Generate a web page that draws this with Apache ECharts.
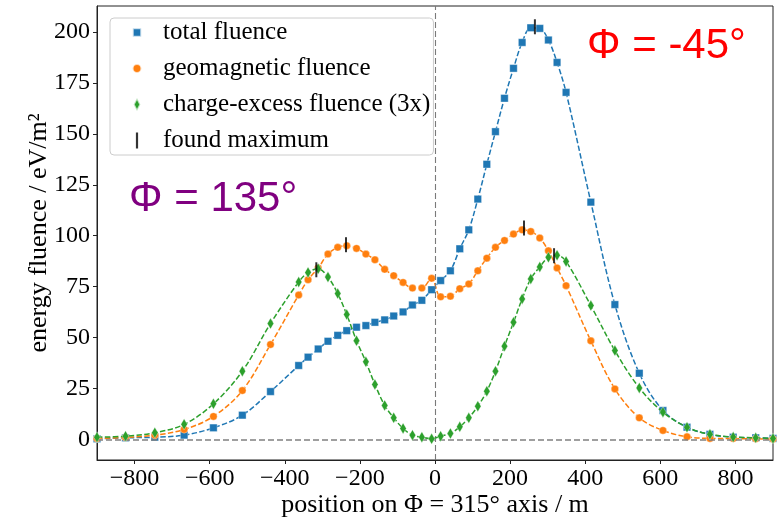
<!DOCTYPE html>
<html>
<head>
<meta charset="utf-8">
<script src="https://cdn.jsdelivr.net/npm/echarts@6/dist/echarts.min.js"></script>
<style>html,body{margin:0;padding:0;background:#fff}#c{width:780px;height:519px}</style>
</head>
<body>
<div id="c"></div>
<script>
// antenna positions along the Φ = 315° axis (m)
const positions = [-900, -824, -746, -668, -590, -513, -438, -363, -338, -311, -285, -259, -235, -209, -184, -160, -134, -110, -85, -60, -35, -9,
  15, 41, 66, 90, 114, 138, 161, 185, 209, 232, 255, 279, 302, 325, 349, 415, 479, 544, 607, 671, 732, 794, 854, 900];
const totalFluence = [0.3, 0.8, 1.1, 2.1, 5.7, 11.9, 23.5, 36.3, 40.4, 44.4, 48.2, 51.1, 53.4, 55.1, 55.9, 57.5, 58.7, 60.6, 62.6, 66.0, 68.3, 73.5,
  78.0, 82.8, 93.6, 102.9, 118.0, 135.1, 151.1, 167.5, 182.2, 194.9, 202.1, 201.8, 196.1, 185.1, 170.4, 116.5, 66.2, 32.5, 14.2, 6.0, 2.5, 1.1, 0.8, 0.5];
const geomagneticFluence = [0.5, 1.0, 2.1, 4.9, 11.3, 24.0, 46.6, 70.9, 78.4, 84.2, 91.0, 94.3, 95.1, 93.8, 91.0, 88.2, 83.5, 80.4, 77.1, 74.3, 74.3, 79.1,
  70.0, 70.3, 74.0, 76.3, 82.8, 89.0, 94.3, 97.7, 100.8, 102.9, 102.1, 98.9, 92.6, 84.2, 75.5, 48.4, 24.8, 10.6, 4.4, 1.3, 0.5, 0.4, 0.3, 0.2];
const chargeExcessFluence3x = [1.1, 1.6, 3.3, 7.4, 17.5, 33.5, 56.9, 77.3, 82.0, 83.8, 79.7, 71.6, 61.3, 48.5, 38.1, 27.0, 16.7, 10.6, 5.4, 2.1, 1.1, 0.3,
  1.6, 2.9, 6.2, 10.6, 16.3, 23.7, 33.5, 45.8, 57.5, 69.0, 78.8, 84.7, 89.4, 90.4, 87.4, 65.7, 43.6, 25.3, 13.4, 6.0, 2.5, 1.2, 0.8, 0.5];
const maxPositions = [266, 237, 317, -237, -316];
const maxValues = [202.6, 103.8, 90.2, 95.6, 83.3];
const xTicks = [-800, -600, -400, -200, 0, 200, 400, 600, 800];
const yTicks = [0, 25, 50, 75, 100, 125, 150, 175, 200];

const zip = (xs, ys) => xs.map((x, i) => [x, ys[i]]);
const serif = 'Liberation Serif';
const dash = [5.5, 2.4];

// legend icons: 42x20 box, shape centred at (21,10)
const pad = 'M0,0 M42,20 ';
const icons = {
  square: 'path://' + pad + 'M16.8,5.8 L25.2,5.8 L25.2,14.2 L16.8,14.2 Z',
  circle: 'path://' + pad + 'M16.6,10 A4.4,4.4 0 1,1 25.4,10 A4.4,4.4 0 1,1 16.6,10 Z',
  diamond: 'path://' + pad + 'M21,3.5 L24.4,10 L21,16.5 L17.6,10 Z',
  bar: 'path://' + pad + 'M19.9,2 L22.1,2 L22.1,18 L19.9,18 Z'
};

const chart = echarts.init(document.getElementById('c'), null, {renderer: 'canvas'});
const lineSeries = (name, data, color, symbol, size, z) => ({
  name, type: 'line', data, z,
  smooth: 0.35,
  symbol, symbolSize: size, showAllSymbol: true,
  lineStyle: {color, width: 1.5, type: dash},
  itemStyle: {color, borderColor: 'rgba(255,255,255,0.7)', borderWidth: 0.5},
  emphasis: {disabled: true}
});

const s1 = lineSeries('total fluence', zip(positions, totalFluence), '#1f77b4', 'rect', 7.5, 3);
s1.markLine = {
  silent: true, symbol: 'none', label: {show: false}, animation: false,
  data: [
    {xAxis: 0, lineStyle: {color: '#7a7a7a', width: 1.1, type: [6, 3]}},
    {yAxis: 0, lineStyle: {color: '#808080', width: 1.5, type: [6, 3]}}
  ]
};

chart.setOption({
  animation: false,
  grid: {left: 97, right: 7, top: 6, bottom: 59, outerBoundsMode: 'none', containLabel: false,
    show: true, borderColor: '#222', borderWidth: 1, backgroundColor: 'transparent'},
  xAxis: {
    type: 'value', min: -900, max: 900,
    name: 'position on Φ = 315° axis / m', nameLocation: 'middle', nameGap: 32, nameMoveOverlap: false,
    nameTextStyle: {fontFamily: serif, fontSize: 26, color: '#000'},
    axisLine: {show: true, onZero: false, lineStyle: {color: '#222', width: 1}},
    axisTick: {show: true, inside: false, length: 4, customValues: xTicks, lineStyle: {color: '#222'}},
    axisLabel: {customValues: xTicks, margin: 7, fontFamily: serif, fontSize: 24, color: '#000',
      formatter: v => String(v).replace('-', '\u2212')},
    splitLine: {show: false}
  },
  yAxis: {
    type: 'value', min: -10.1, max: 212.8,
    name: 'energy fluence / eV/m²', nameLocation: 'middle', nameGap: 45, nameRotate: 90, nameMoveOverlap: false,
    nameTextStyle: {fontFamily: serif, fontSize: 26, color: '#000'},
    axisLine: {show: true, onZero: false, lineStyle: {color: '#222', width: 1}},
    axisTick: {show: true, inside: false, length: 4, customValues: yTicks, lineStyle: {color: '#222'}},
    axisLabel: {customValues: yTicks, margin: 7, fontFamily: serif, fontSize: 24, color: '#000'},
    splitLine: {show: false}
  },
  legend: {
    orient: 'vertical', left: 110, top: 18,
    padding: [2, 3, 2, 5], itemGap: 11, itemWidth: 42, itemHeight: 20,
    backgroundColor: 'rgba(255,255,255,0.8)', borderColor: '#cccccc', borderWidth: 1, borderRadius: 4,
    textStyle: {fontFamily: serif, fontSize: 25, color: '#000'},
    selectedMode: false,
    data: [
      {name: 'total fluence', icon: icons.square},
      {name: 'geomagnetic fluence', icon: icons.circle},
      {name: 'charge-excess fluence (3x)', icon: icons.diamond},
      {name: 'found maximum', icon: icons.bar}
    ]
  },
  graphic: [
    {type: 'text', x: 129, y: 199, z: 10, style: {text: 'Φ = 135°', font: '42px "Liberation Sans"', fill: '#800080', verticalAlign: 'middle'}},
    {type: 'text', x: 587, y: 46, z: 10, style: {text: 'Φ = -45°', font: '42px "Liberation Sans"', fill: '#ff0000', verticalAlign: 'middle'}}
  ],
  series: [
    s1,
    lineSeries('geomagnetic fluence', zip(positions, geomagneticFluence), '#ff7f0e', 'circle', 7.5, 4),
    lineSeries('charge-excess fluence (3x)', zip(positions, chargeExcessFluence3x), '#2ca02c', 'diamond', [6.5, 11], 5),
    {
      name: 'found maximum', type: 'scatter', z: 6,
      data: zip(maxPositions, maxValues),
      symbol: 'rect', symbolSize: [2, 15],
      itemStyle: {color: '#000'},
      emphasis: {disabled: true}
    }
  ]
});
</script>
</body>
</html>
